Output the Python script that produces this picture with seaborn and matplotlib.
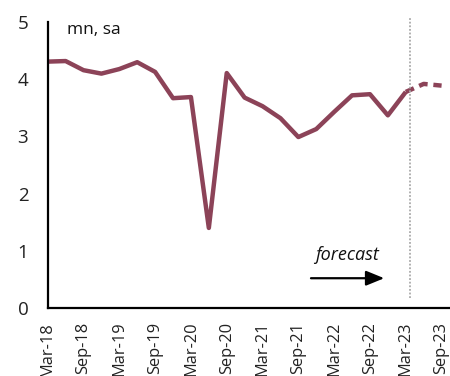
import matplotlib
matplotlib.use("Agg")
import matplotlib.pyplot as plt
import seaborn as sns
import pandas as pd
import numpy as np

quarters = ["Mar-18", "Jun-18", "Sep-18", "Dec-18", "Mar-19", "Jun-19", "Sep-19", "Dec-19",
            "Mar-20", "Jun-20", "Sep-20", "Dec-20", "Mar-21", "Jun-21", "Sep-21", "Dec-21",
            "Mar-22", "Jun-22", "Sep-22", "Dec-22", "Mar-23", "Jun-23", "Sep-23"]
actual = [4.31, 4.32, 4.16, 4.10, 4.18, 4.30, 4.13, 3.67,
          3.69, 1.40, 4.11, 3.68, 3.53, 3.32, 2.99, 3.13,
          3.43, 3.72, 3.74, 3.37, 3.78]
forecast = [3.78, 3.92, 3.89]
tick_labels = ["Mar-18", "Sep-18", "Mar-19", "Sep-19", "Mar-20", "Sep-20",
               "Mar-21", "Sep-21", "Mar-22", "Sep-22", "Mar-23", "Sep-23"]
y_ticks = [0, 1, 2, 3, 4, 5]

sns.set_style("white")
plt.rcParams["font.family"] = ["Open Sans", "DejaVu Sans"]

color = "#8C4358"
df_a = pd.DataFrame({"x": np.arange(len(actual)), "y": actual})
df_f = pd.DataFrame({"x": np.arange(len(actual) - 1, len(actual) - 1 + len(forecast)), "y": forecast})

fig = plt.figure(figsize=(4.5, 3.76), dpi=100)
ax = fig.add_axes([0.106, 0.181, 0.894, 0.760])

sns.lineplot(data=df_a, x="x", y="y", ax=ax, color=color, lw=3.2, solid_capstyle="butt")
sns.lineplot(data=df_f, x="x", y="y", ax=ax, color=color, lw=3.2, dashes=False)
ax.lines[-1].set_linestyle((0, (2.0, 1.3)))

ax.set_xlim(0, 22.47)
ax.set_ylim(0, 5)
xt = [quarters.index(t) for t in tick_labels]
ax.set_xticks(xt)
ax.set_xticklabels(tick_labels, rotation=90, fontsize=11.8, color="#222222")
ax.set_yticks(y_ticks)
ax.set_yticklabels([str(v) for v in y_ticks], fontsize=13.5, color="#222222")
ax.set_xlabel("")
ax.set_ylabel("")

for s in ["top", "right"]:
    ax.spines[s].set_visible(False)
for s in ["left", "bottom"]:
    ax.spines[s].set_color("black")
    ax.spines[s].set_linewidth(1.6)
ax.tick_params(axis="x", direction="out", length=5, width=1.6, color="black", pad=5)
ax.tick_params(axis="y", direction="in", length=4, width=1.6, color="black", pad=14)

ax.axvline(20.24, ymin=0.035, ymax=1.016, color="#aaaaaa", lw=1.3, ls=(0, (1, 1)), clip_on=False)

ax.text(1.08, 4.87, "mn, sa", fontsize=12.5, ha="left", va="center", color="#111111")
ax.text(16.72, 0.93, "forecast", fontsize=13, style="italic", ha="center", va="center", color="#111111")
ax.annotate("", xy=(18.95, 0.52), xytext=(14.55, 0.52),
            arrowprops=dict(arrowstyle="-|>,head_length=1.1,head_width=0.45", color="black", lw=1.6))

fig.savefig("out.png", dpi=100)
